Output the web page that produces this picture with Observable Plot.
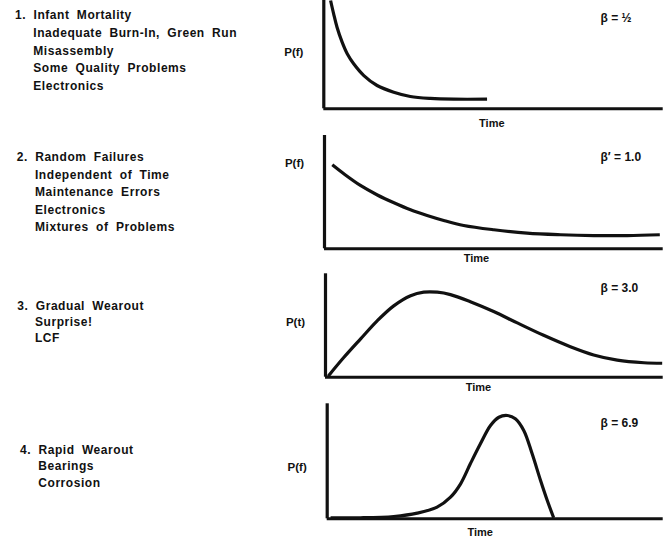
<!DOCTYPE html>
<html>
<head>
<meta charset="utf-8">
<script src="https://cdn.jsdelivr.net/npm/d3@7"></script>
<script src="https://cdn.jsdelivr.net/npm/@observablehq/plot@0.6"></script>
<style>
  html, body { margin: 0; padding: 0; background: #fff; }
  #root { position: relative; width: 670px; height: 538px; overflow: hidden; background: #fff;
          font-family: "Liberation Sans", Arial, Helvetica, sans-serif; color: #111; }
  .panel { position: absolute; left: 0; }
  .desc { position: absolute; font-size: 12px; font-weight: bold; letter-spacing: 0.55px; word-spacing: 3.5px; white-space: nowrap; }
</style>
</head>
<body>
<div id="root"></div>
<script>
// ---------------- data ----------------
const groupTitles = ["1. Infant Mortality", "2. Random Failures", "3. Gradual Wearout", "4. Rapid Wearout"];
const causes1 = ["Inadequate Burn-In, Green Run", "Misassembly", "Some Quality Problems", "Electronics"];
const causes2 = ["Independent of Time", "Maintenance Errors", "Electronics", "Mixtures of Problems"];
const causes3 = ["Surprise!", "LCF"];
const causes4 = ["Bearings", "Corrosion"];
const shapeLabels = ["β = ½", "β′ = 1.0", "β = 3.0", "β = 6.9"];
const yLabels = ["P(f)", "P(f)", "P(t)", "P(f)"];
const xLabel = "Time";

// curves: time (0–100 of axis length) vs. density (0–100 of axis height)
const t1 = [2.0, 2.9, 3.9, 5.4, 6.9, 8.8, 11.8, 15.7, 20.6, 25.5, 31.4, 38.3, 48.1];
const p1 = [100, 87.7, 75.3, 61.5, 50.8, 41.6, 30.7, 21.5, 15.3, 11.4, 9.6, 8.9, 8.9];
const t2 = [2.3, 5.7, 10.6, 15.6, 20.5, 25.4, 30.3, 35.2, 41.1, 50.0, 59.8, 69.7, 79.5, 89.4, 99.0];
const p2 = [74.1, 66.2, 55.9, 47.5, 40.6, 34.4, 29.4, 25.0, 20.6, 16.8, 13.8, 12.4, 11.7, 11.7, 12.4];
const t3 = [0.8, 5.4, 10.4, 15.3, 20.2, 25.2, 29.1, 33.1, 37.0, 42.9, 49.8, 56.8, 64.6, 72.5, 79.4, 86.4, 94.3, 99.7];
const p3 = [1.0, 19.0, 37.1, 54.5, 69.0, 78.8, 82.2, 82.2, 79.9, 73.0, 63.5, 52.5, 40.5, 29.5, 21.5, 16.5, 14.0, 13.5];
const t4 = [1.0, 9.9, 19.8, 26.8, 32.7, 36.7, 39.7, 42.6, 45.6, 48.6, 51.1, 53.6, 56.0, 58.5, 61.0, 63.5, 65.5, 67.4];
const p4 = [0.9, 0.9, 2.0, 4.9, 10.1, 18.8, 30.4, 47.8, 65.2, 81.1, 88.3, 89.8, 87.0, 76.8, 56.5, 33.3, 15.9, 0.9];

// ---------------- layout ----------------
const causesList = [causes1, causes2, causes3, causes4];
const curves = [[t1, p1], [t2, p2], [t3, p3], [t4, p4]];
const panels = [
  {top: 0,   height: 130, mt: 0,   mb: 21.7, ml: 323.3, timeDx: 168, timeDy: 14.7, yLabY: 52,  betaY: 18},
  {top: 130, height: 135, mt: 5,   mb: 16.7, ml: 324,   timeDx: 152, timeDy: 10,   yLabY: 33,  betaY: 27},
  {top: 265, height: 130, mt: 8.3, mb: 18.3, ml: 325,   timeDx: 153, timeDy: 10,   yLabY: 57,  betaY: 23},
  {top: 395, height: 143, mt: 8.3, mb: 19.7, ml: 326.7, timeDx: 153, timeDy: 13.4, yLabY: 72,  betaY: 28}
];
const descLayout = [
  {x: 15,   indent: 18.3, top: 7.1,   lh: 17.8},
  {x: 16.7, indent: 18.3, top: 149.3, lh: 17.5},
  {x: 17.3, indent: 17.7, top: 298,   lh: 16},
  {x: 20,   indent: 18.3, top: 441.8, lh: 16.5}
];

const root = document.getElementById("root");
const ink = "#111";
const font = "Liberation Sans, Arial, Helvetica, sans-serif";

panels.forEach((pl, i) => {
  const [ts, ps] = curves[i];
  const pts = ts.map((t, j) => ({t, p: ps[j]}));
  const chart = Plot.plot({
    width: 670,
    height: pl.height,
    marginLeft: pl.ml,
    marginRight: 7.3,
    marginTop: pl.mt,
    marginBottom: pl.mb,
    x: {domain: [0, 100], axis: null},
    y: {domain: [0, 100], axis: null},
    style: {background: "transparent", overflow: "visible", fontFamily: font, color: ink},
    marks: [
      Plot.ruleY([0], {stroke: ink, strokeWidth: 3}),
      Plot.ruleX([0], {y1: 0, y2: 100, stroke: ink, strokeWidth: 3.2}),
      Plot.line(pts, {x: "t", y: "p", curve: "catmull-rom", stroke: ink, strokeWidth: 3.2, strokeLinecap: "butt"}),
      Plot.text([xLabel], {text: d => d, frameAnchor: "bottom-left", dx: pl.timeDx, dy: pl.timeDy,
        textAnchor: "middle", lineAnchor: "middle", fontSize: 11, fontWeight: "bold", fill: ink, letterSpacing: 0.5}),
      Plot.text([yLabels[i]], {text: d => d, frameAnchor: "top-left", dx: -30, dy: pl.yLabY - pl.mt,
        textAnchor: "middle", lineAnchor: "middle", fontSize: 11.5, fontWeight: "bold", fill: ink}),
      Plot.text([shapeLabels[i]], {text: d => d, frameAnchor: "top-left", dx: 600 - pl.ml, dy: pl.betaY - pl.mt,
        textAnchor: "start", lineAnchor: "middle", fontSize: 12, fontWeight: "bold", fill: ink, letterSpacing: 0.5})
    ]
  });
  chart.classList.add("panel");
  chart.style.top = pl.top + "px";
  root.appendChild(chart);
});

descLayout.forEach((d, i) => {
  const div = document.createElement("div");
  div.className = "desc";
  div.style.left = d.x + "px";
  div.style.top = d.top + "px";
  div.style.lineHeight = d.lh + "px";
  const title = document.createElement("div");
  title.textContent = groupTitles[i];
  div.appendChild(title);
  causesList[i].forEach(c => {
    const line = document.createElement("div");
    line.style.paddingLeft = d.indent + "px";
    line.textContent = c;
    div.appendChild(line);
  });
  root.appendChild(div);
});
</script>
</body>
</html>
